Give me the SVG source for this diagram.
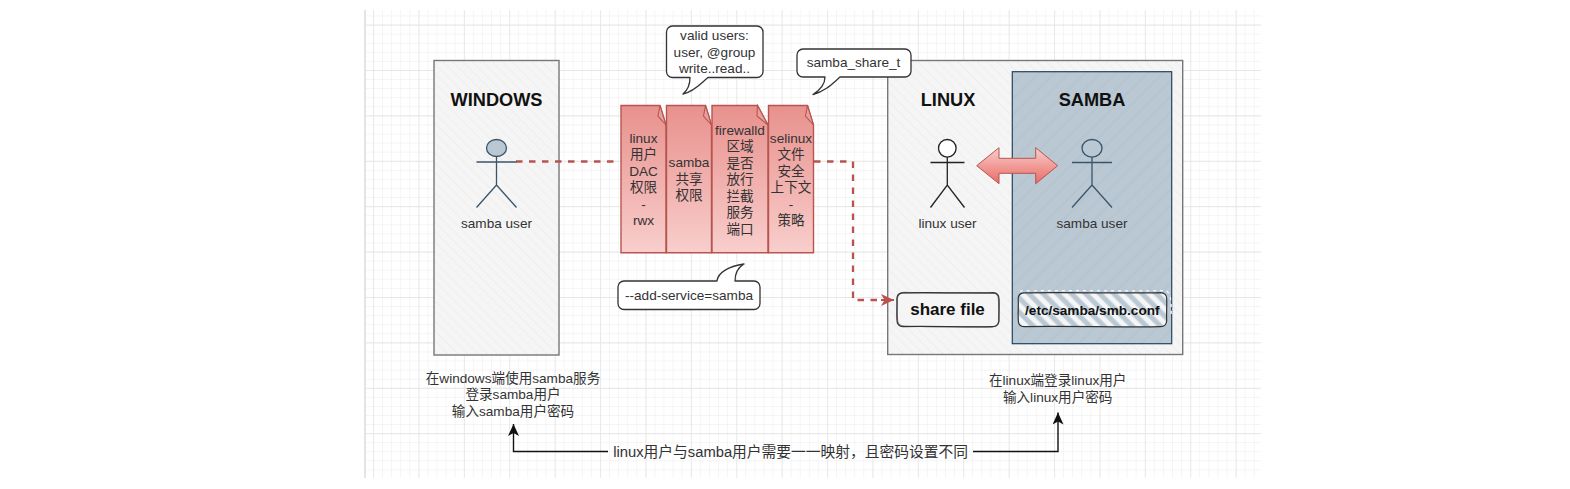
<svg xmlns="http://www.w3.org/2000/svg" width="1570" height="489" viewBox="0 0 1570 489">
<style>
text{font-family:"Liberation Sans","Noto Sans CJK SC",sans-serif;font-size:13.6px;fill:#333;text-anchor:middle}
.title{font-size:18.2px;font-weight:bold;fill:#111}
.note{fill:url(#noteGrad);stroke:#b85450;stroke-width:1.4}
.fold{fill:#e8a09c;stroke:#b85450;stroke-width:1.1}
.call{fill:#fff;stroke:#333;stroke-width:1.3;stroke-linejoin:round}
.stick{fill:none;stroke-width:1.3}
.dash{fill:none;stroke:#b85450;stroke-width:2.3;stroke-dasharray:6.5 6.5}
.line{fill:none;stroke:#111;stroke-width:1.4}
.sk{fill:none;stroke:#333;stroke-width:1.2}
.bold{font-weight:bold;fill:#111}
</style>
<defs>
<pattern id="minorV" width="9.08" height="489" patternUnits="userSpaceOnUse" x="0.7"><path d="M0 0V489" stroke="#f0f0f0" stroke-width="1.2"/></pattern>
<pattern id="minorH" width="489" height="9.08" patternUnits="userSpaceOnUse" y="6.4"><path d="M0 0H489" stroke="#f0f0f0" stroke-width="1.2"/></pattern>
<pattern id="majorV" width="45.4" height="489" patternUnits="userSpaceOnUse" x="9.9"><path d="M0 0V489" stroke="#e2e2e2" stroke-width="1.3"/></pattern>
<pattern id="majorH" width="489" height="45.4" patternUnits="userSpaceOnUse" y="24.6"><path d="M0 0H489" stroke="#e2e2e2" stroke-width="1.3"/></pattern>
<pattern id="hatchGrey" width="7" height="7" patternUnits="userSpaceOnUse" patternTransform="rotate(45)"><rect width="7" height="7" fill="#f5f5f5"/><path d="M0 3.5H7" stroke="#eeeeee" stroke-width="1"/></pattern>
<pattern id="hatchBlue" width="11" height="11" patternUnits="userSpaceOnUse" patternTransform="rotate(-45)"><rect width="11" height="11" fill="#bac8d3"/><path d="M0 5H11" stroke="#b2c1cd" stroke-width="1"/></pattern>
<pattern id="hatchWhite" width="10" height="10" patternUnits="userSpaceOnUse" patternTransform="rotate(45)"><rect width="10" height="10" fill="#bac8d3"/><path d="M0 5H10" stroke="#f4f6f8" stroke-width="5"/></pattern>
<linearGradient id="noteGrad" x1="0" y1="0" x2="0" y2="1"><stop offset="0" stop-color="#e8918d"/><stop offset="1" stop-color="#f8cecc"/></linearGradient>
<linearGradient id="arrowGrad" x1="0" y1="0" x2="0" y2="1"><stop offset="0" stop-color="#f8cecc"/><stop offset="1" stop-color="#ea6b66"/></linearGradient>
<marker id="redHead" markerUnits="userSpaceOnUse" markerWidth="14" markerHeight="14" refX="13" refY="7" orient="auto"><path d="M0 1L13 7L0 13L3.5 7Z" fill="#b85450"/></marker>
<marker id="blackHead" markerUnits="userSpaceOnUse" markerWidth="14" markerHeight="12" refX="12" refY="5.5" orient="auto"><path d="M0 0L12 5.5L0 11L3 5.5Z" fill="#111"/></marker>
</defs>

<g id="grid">
<rect x="0" y="0" width="1570" height="489" fill="#fff"/>
<g>
<rect x="365" y="10" width="896" height="468" fill="url(#minorV)"/>
<rect x="365" y="10" width="896" height="468" fill="url(#minorH)"/>
<rect x="365" y="10" width="896" height="468" fill="url(#majorV)"/>
<rect x="365" y="10" width="896" height="468" fill="url(#majorH)"/>
<path d="M365 10V478" stroke="#e4e4e4" stroke-width="2"/>
</g>
</g>

<g id="windows-panel">
<rect x="434" y="60.5" width="125" height="294.5" fill="url(#hatchGrey)" stroke="#777" stroke-width="1.4"/>
<text class="title" x="496.5" y="106">WINDOWS</text>
</g>
<g id="linux-panel">
<rect x="887.7" y="60.5" width="295" height="294" fill="url(#hatchGrey)" stroke="#777" stroke-width="1.4"/>
<text class="title" x="948" y="106">LINUX</text>
</g>
<g id="samba-panel">
<rect x="1012.3" y="71.7" width="159.4" height="272" fill="url(#hatchBlue)" stroke="#23445d" stroke-width="1.2"/>
<text class="title" x="1092" y="106">SAMBA</text>
</g>

<g id="connectors">
<path class="dash" d="M516 161.5H620"/>
<path class="dash" d="M814 161.5H853V300H881" />
<path d="M881 300H894" fill="none" stroke="#b85450" stroke-width="2" marker-end="url(#redHead)"/>
<path class="line" d="M608 451.5H513.5V424" marker-end="url(#blackHead)"/>
<path class="line" d="M973 451.5H1058V412.5" marker-end="url(#blackHead)"/>
<path d="M976.7 165.7L999 147.7V158.3H1035.7V147.7L1057.7 165.7L1035.7 183.7V173.3H999V183.7Z" fill="url(#arrowGrad)" stroke="#b85450" stroke-width="1"/>
</g>

<g id="actor-windows">
<g class="stick" stroke="#3b5468">
<ellipse cx="496.5" cy="148" rx="10" ry="8.5" fill="#bac8d3"/>
<path d="M496.5 156.5V185M476.5 162H516.5M476.5 207.5L496.5 185L516.5 207.5"/>
</g>
<text x="496.5" y="228">samba user</text>
</g>
<g id="actor-linux">
<g class="stick" stroke="#222">
<circle cx="947.3" cy="148.3" r="8.8" fill="#fff"/>
<path d="M947.3 157V185M930.5 162.5H964.5M930.5 207.5L947.3 185L964.5 207.5"/>
</g>
<text x="947.5" y="228">linux user</text>
</g>
<g id="actor-samba">
<g class="stick" stroke="#3b5468">
<ellipse cx="1092" cy="148.3" rx="10" ry="8.8" fill="#bac8d3"/>
<path d="M1092 157V185M1072 162.5H1112M1072 207.5L1092 185L1112 207.5"/>
</g>
<text x="1092" y="228">samba user</text>
</g>

<g id="note-linux">
<path class="note" d="M621 105.5H660L666 125V252.7H621Z"/>
<path class="fold" d="M660 105.5L658 116L666 125Z"/>
<text x="643.5" y="142.5">linux</text><text x="643.5" y="159">用户</text><text x="643.5" y="175.5">DAC</text><text x="643.5" y="192">权限</text><text x="643.5" y="208.7">-</text><text x="643.5" y="225.3">rwx</text>
</g>
<g id="note-samba">
<path class="note" d="M666.5 105.5H705.5L711.5 125V252.7H666.5Z"/>
<path class="fold" d="M705.5 105.5L703.5 116L711.5 125Z"/>
<text x="689" y="167">samba</text><text x="689" y="183.5">共享</text><text x="689" y="200">权限</text>
</g>
<g id="note-firewalld">
<path class="note" d="M712 105.5H757.5L768 125V252.7H712Z"/>
<path class="fold" d="M757.5 105.5L757 116L768 125Z"/>
<text x="740" y="134.5">firewalld</text><text x="740" y="151">区域</text><text x="740" y="167.5">是否</text><text x="740" y="184">放行</text><text x="740" y="200.5">拦截</text><text x="740" y="217">服务</text><text x="740" y="233.5">端口</text>
</g>
<g id="note-selinux">
<path class="note" d="M768.5 105.5H807.5L813.5 125V252.7H768.5Z"/>
<path class="fold" d="M807.5 105.5L805.5 116L813.5 125Z"/>
<text x="791" y="142.5">selinux</text><text x="791" y="159">文件</text><text x="791" y="175.5">安全</text><text x="791" y="192">上下文</text><text x="791" y="208.7">-</text><text x="791" y="225.3">策略</text>
</g>

<g id="callout-valid-users">
<path class="call" d="M672.5 26H757A6 6 0 0 1 763 32V71.5A6 6 0 0 1 757 77.5H708C701 83 695 91 683 94C689 89 690 83 690 77.5H672.5A6 6 0 0 1 666.5 71.5V32A6 6 0 0 1 672.5 26Z"/>
<text x="714.5" y="40">valid users:</text><text x="714.5" y="56.5">user, @group</text><text x="714.5" y="73">write..read..</text>
</g>
<g id="callout-share-t">
<path class="call" d="M803 49H905A6 6 0 0 1 911 55V71A6 6 0 0 1 905 77H840C833 83 826 91 813 94.5C820 90 825 84 825 77H803A6 6 0 0 1 797 71V55A6 6 0 0 1 803 49Z"/>
<text x="853.5" y="67">samba_share_t</text>
</g>
<g id="callout-add-service">
<path class="call" d="M624 281H717C718 272 730 266 744 264C737 268 735 274 735 281H754A6 6 0 0 1 760 287V303.5A6 6 0 0 1 754 309.5H624A6 6 0 0 1 618 303.5V287A6 6 0 0 1 624 281Z"/>
<text x="689" y="300">--add-service=samba</text>
</g>

<g id="share-file">
<rect x="896.7" y="292.7" width="102.3" height="34" rx="6" fill="#f5f5f5"/>
<path class="sk" d="M903 292.9C930 292 970 293.6 993 292.6C997 292.6 999.2 295 999 299C999.4 305 998.6 314 999 320.5C999 324.6 996.5 326.8 992.5 326.6C970 327.4 925 325.8 903 326.6C899 326.6 896.8 324 897 320C896.5 312 897.4 305 896.9 299C896.9 295 899 293 903 292.9Z"/>
<path class="sk" d="M904 292.4C935 293.4 968 292.2 993.5 293.2C997.6 293.4 998.6 296 998.5 300C998.8 308 999.4 314 998.6 321C998.4 325 996 326 992 327C968 326.2 930 327.4 904 326C900 326 897.4 323 897.4 319C897.2 310 896.6 304 897.4 298C897.8 294.6 900 292.6 904 292.4Z" opacity="0.6"/>
<text class="bold" x="947.5" y="315" style="font-size:17px">share file</text>
</g>
<g id="smb-conf">
<rect x="1018" y="292.7" width="148.7" height="34" rx="6" fill="url(#hatchWhite)"/>
<path d="M1020 291C1060 290 1130 291.5 1165 290.5C1170 291 1172 300 1171 316" fill="none" stroke="#fff" stroke-width="1.2" stroke-dasharray="3 4"/>
<path class="sk" d="M1024 292.9C1060 292 1130 293.6 1160.5 292.6C1164.5 292.6 1166.9 295 1166.7 299C1167 305 1166.3 314 1166.7 320.5C1166.7 324.6 1164.2 326.8 1160.2 326.6C1130 327.4 1060 325.8 1024 326.6C1020 326.6 1018.1 324 1018.3 320C1017.8 312 1018.7 305 1018.2 299C1018.2 295 1020 293 1024 292.9Z"/>
<text class="bold" x="1092.3" y="314.5" style="font-size:13.6px">/etc/samba/smb.conf</text>
</g>

<g id="label-windows">
<text x="513" y="382.5">在windows端使用samba服务</text><text x="513" y="399">登录samba用户</text><text x="513" y="415.5">输入samba用户密码</text>
</g>
<g id="label-linux">
<text x="1057.7" y="384.5">在linux端登录linux用户</text><text x="1057.7" y="401.5">输入linux用户密码</text>
</g>
<g id="label-mapping">
<text x="790.7" y="456.5" style="font-size:14.75px">linux用户与samba用户需要一一映射，且密码设置不同</text>
</g>
</svg>
